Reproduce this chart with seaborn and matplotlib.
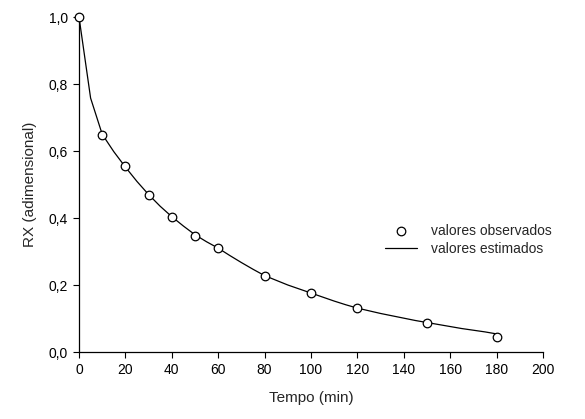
import matplotlib
matplotlib.use("Agg")
import matplotlib.pyplot as plt
import seaborn as sns
import pandas as pd
from matplotlib.ticker import FuncFormatter

# observed values
t_obs = [0, 10, 20, 30, 40, 50, 60, 80, 100, 120, 150, 180]
rx_obs = [1.0, 0.648, 0.556, 0.469, 0.403, 0.347, 0.310, 0.228, 0.176, 0.131, 0.087, 0.045]

# estimated values
t_est = [0, 5, 10, 15, 20, 25, 30, 35, 40, 45, 50, 55, 60, 65, 70, 75, 80, 85, 90,
         95, 100, 105, 110, 115, 120, 125, 130, 135, 140, 145, 150, 155, 160, 165,
         170, 175, 180]
rx_est = [1.0, 0.758, 0.650, 0.598, 0.552, 0.509, 0.470, 0.435, 0.404, 0.376, 0.350,
          0.329, 0.310, 0.288, 0.267, 0.247, 0.228, 0.214, 0.200, 0.188, 0.176,
          0.164, 0.152, 0.141, 0.131, 0.123, 0.115, 0.108, 0.101, 0.094, 0.088,
          0.082, 0.076, 0.070, 0.065, 0.060, 0.054]

x_ticks = [0, 20, 40, 60, 80, 100, 120, 140, 160, 180, 200]
y_ticks = [0.0, 0.2, 0.4, 0.6, 0.8, 1.0]

sns.set_style("ticks")
plt.rcParams['font.family'] = ['Liberation Sans', 'DejaVu Sans']

df_obs = pd.DataFrame({"t": t_obs, "rx": rx_obs})
df_est = pd.DataFrame({"t": t_est, "rx": rx_est})

fig = plt.figure(figsize=(5.85, 4.19), dpi=100)
ax = fig.add_axes([79/585, 1 - 352/419, 464/585, 335/419])

sns.lineplot(data=df_est, x="t", y="rx", ax=ax, color="black", linewidth=0.9,
             label="valores estimados", zorder=2)
sns.scatterplot(data=df_obs, x="t", y="rx", ax=ax, marker="o", s=38,
                facecolor="white", edgecolor="black", linewidth=0.9,
                label="valores observados", zorder=3, clip_on=False)

ax.set_xlim(0, 200)
ax.set_ylim(0, 1.0)
ax.set_xticks(x_ticks)
ax.set_yticks(y_ticks)
ax.yaxis.set_major_formatter(FuncFormatter(lambda v, p: f"{v:.1f}".replace(".", ",")))
ax.tick_params(direction="out", length=4.5, width=0.8, labelsize=10, colors="black")
for s in ["left", "bottom"]:
    ax.spines[s].set_linewidth(0.9)
    ax.spines[s].set_color("black")
sns.despine(ax=ax)

ax.set_xlabel("Tempo (min)", fontsize=11, labelpad=10)
ax.set_ylabel("RX (adimensional)", fontsize=11, labelpad=8)

h, l = ax.get_legend_handles_labels()
order = [l.index("valores observados"), l.index("valores estimados")]
ax.legend([h[i] for i in order], [l[i] for i in order], loc="center left",
          bbox_to_anchor=(0.66, 0.335), frameon=False, fontsize=10,
          handlelength=2.3, handletextpad=1.0, borderpad=0, borderaxespad=0,
          labelspacing=0.3)

fig.savefig("out.png", dpi=100)
